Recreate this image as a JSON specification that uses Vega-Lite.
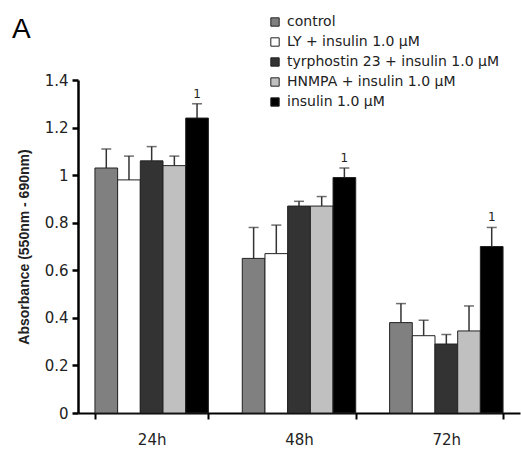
{
  "$schema": "https://vega.github.io/schema/vega-lite/v6.json",
  "width": 442,
  "height": 333,
  "autosize": {"type": "none"},
  "padding": {"left": 78, "top": 80, "right": 1, "bottom": 42},
  "background": "white",
  "title": {"text": "A", "anchor": "start", "frame": "group", "dx": -66, "offset": -51, "baseline": "alphabetic", "fontSize": 28, "font": "Liberation Sans", "fontWeight": "normal", "color": "black"},
  "config": {
    "view": {"stroke": null},
    "font": "DejaVu Sans",
    "axis": {"labelFont": "DejaVu Sans", "titleFont": "Liberation Sans", "labelColor": "#222", "domainColor": "black", "tickColor": "black", "grid": false}
  },
  "data": {
    "values": [
      {"time": "24h", "group": "control", "mean": 1.03, "upper": 1.11, "sig": ""},
      {"time": "24h", "group": "LY + insulin 1.0 µM", "mean": 0.98, "upper": 1.08, "sig": ""},
      {"time": "24h", "group": "tyrphostin 23 + insulin 1.0 µM", "mean": 1.06, "upper": 1.12, "sig": ""},
      {"time": "24h", "group": "HNMPA + insulin 1.0 µM", "mean": 1.04, "upper": 1.08, "sig": ""},
      {"time": "24h", "group": "insulin 1.0 µM", "mean": 1.24, "upper": 1.30, "sig": "1"},
      {"time": "48h", "group": "control", "mean": 0.65, "upper": 0.78, "sig": ""},
      {"time": "48h", "group": "LY + insulin 1.0 µM", "mean": 0.67, "upper": 0.79, "sig": ""},
      {"time": "48h", "group": "tyrphostin 23 + insulin 1.0 µM", "mean": 0.87, "upper": 0.89, "sig": ""},
      {"time": "48h", "group": "HNMPA + insulin 1.0 µM", "mean": 0.87, "upper": 0.91, "sig": ""},
      {"time": "48h", "group": "insulin 1.0 µM", "mean": 0.99, "upper": 1.03, "sig": "1"},
      {"time": "72h", "group": "control", "mean": 0.38, "upper": 0.46, "sig": ""},
      {"time": "72h", "group": "LY + insulin 1.0 µM", "mean": 0.325, "upper": 0.39, "sig": ""},
      {"time": "72h", "group": "tyrphostin 23 + insulin 1.0 µM", "mean": 0.29, "upper": 0.33, "sig": ""},
      {"time": "72h", "group": "HNMPA + insulin 1.0 µM", "mean": 0.345, "upper": 0.45, "sig": ""},
      {"time": "72h", "group": "insulin 1.0 µM", "mean": 0.70, "upper": 0.78, "sig": "1"}
    ]
  },
  "encoding": {
    "x": {
      "field": "time", "type": "nominal",
      "scale": {"paddingInner": 0.23, "paddingOuter": 0.115},
      "axis": {"title": null, "labelAngle": 0, "labelFontSize": 15, "labelPadding": 13, "domainWidth": 2, "tickWidth": 2, "tickSize": 6, "tickBand": "extent"}
    },
    "xOffset": {
      "field": "group", "type": "nominal",
      "sort": ["control", "LY + insulin 1.0 µM", "tyrphostin 23 + insulin 1.0 µM", "HNMPA + insulin 1.0 µM", "insulin 1.0 µM"],
      "scale": {"paddingInner": 0, "paddingOuter": 0}
    }
  },
  "layer": [
    {
      "mark": {"type": "rule", "color": "#333", "strokeWidth": 1.5},
      "encoding": {
        "y": {"field": "mean", "type": "quantitative"},
        "y2": {"field": "upper"}
      }
    },
    {
      "mark": {"type": "tick", "color": "#333", "thickness": 1.5, "size": 10},
      "encoding": {
        "y": {"field": "upper", "type": "quantitative"}
      }
    },
    {
      "mark": {"type": "bar", "stroke": "#222", "strokeWidth": 1},
      "encoding": {
        "y": {
          "field": "mean", "type": "quantitative",
          "scale": {"domain": [0, 1.4], "nice": false},
          "axis": {
            "title": "Absorbance (550nm - 690nm)", "titleFontSize": 14, "titleFontWeight": "bold", "titleColor": "#222", "titlePadding": 13,
            "values": [0, 0.2, 0.4, 0.6, 0.8, 1, 1.2, 1.4], "format": "~g",
            "labelFontSize": 15, "labelPadding": 4, "domainWidth": 2.5, "tickWidth": 2.5, "tickSize": 6
          }
        },
        "color": {
          "field": "group", "type": "nominal",
          "sort": ["control", "LY + insulin 1.0 µM", "tyrphostin 23 + insulin 1.0 µM", "HNMPA + insulin 1.0 µM", "insulin 1.0 µM"],
          "scale": {
            "domain": ["control", "LY + insulin 1.0 µM", "tyrphostin 23 + insulin 1.0 µM", "HNMPA + insulin 1.0 µM", "insulin 1.0 µM"],
            "range": ["#808080", "#ffffff", "#333333", "#c0c0c0", "#000000"]
          },
          "legend": {
            "title": null, "orient": "none", "legendX": 190, "legendY": -65,
            "symbolType": "square", "symbolSize": 70, "symbolStrokeColor": "#222", "symbolStrokeWidth": 1,
            "labelFont": "DejaVu Sans", "labelFontSize": 14, "labelColor": "#222", "rowPadding": 6, "labelOffset": 5, "labelLimit": 300
          }
        }
      }
    },
    {
      "mark": {"type": "text", "dy": -6, "fontSize": 12, "font": "DejaVu Sans", "color": "#222", "baseline": "alphabetic"},
      "encoding": {
        "y": {"field": "upper", "type": "quantitative"},
        "text": {"field": "sig"}
      }
    }
  ]
}
